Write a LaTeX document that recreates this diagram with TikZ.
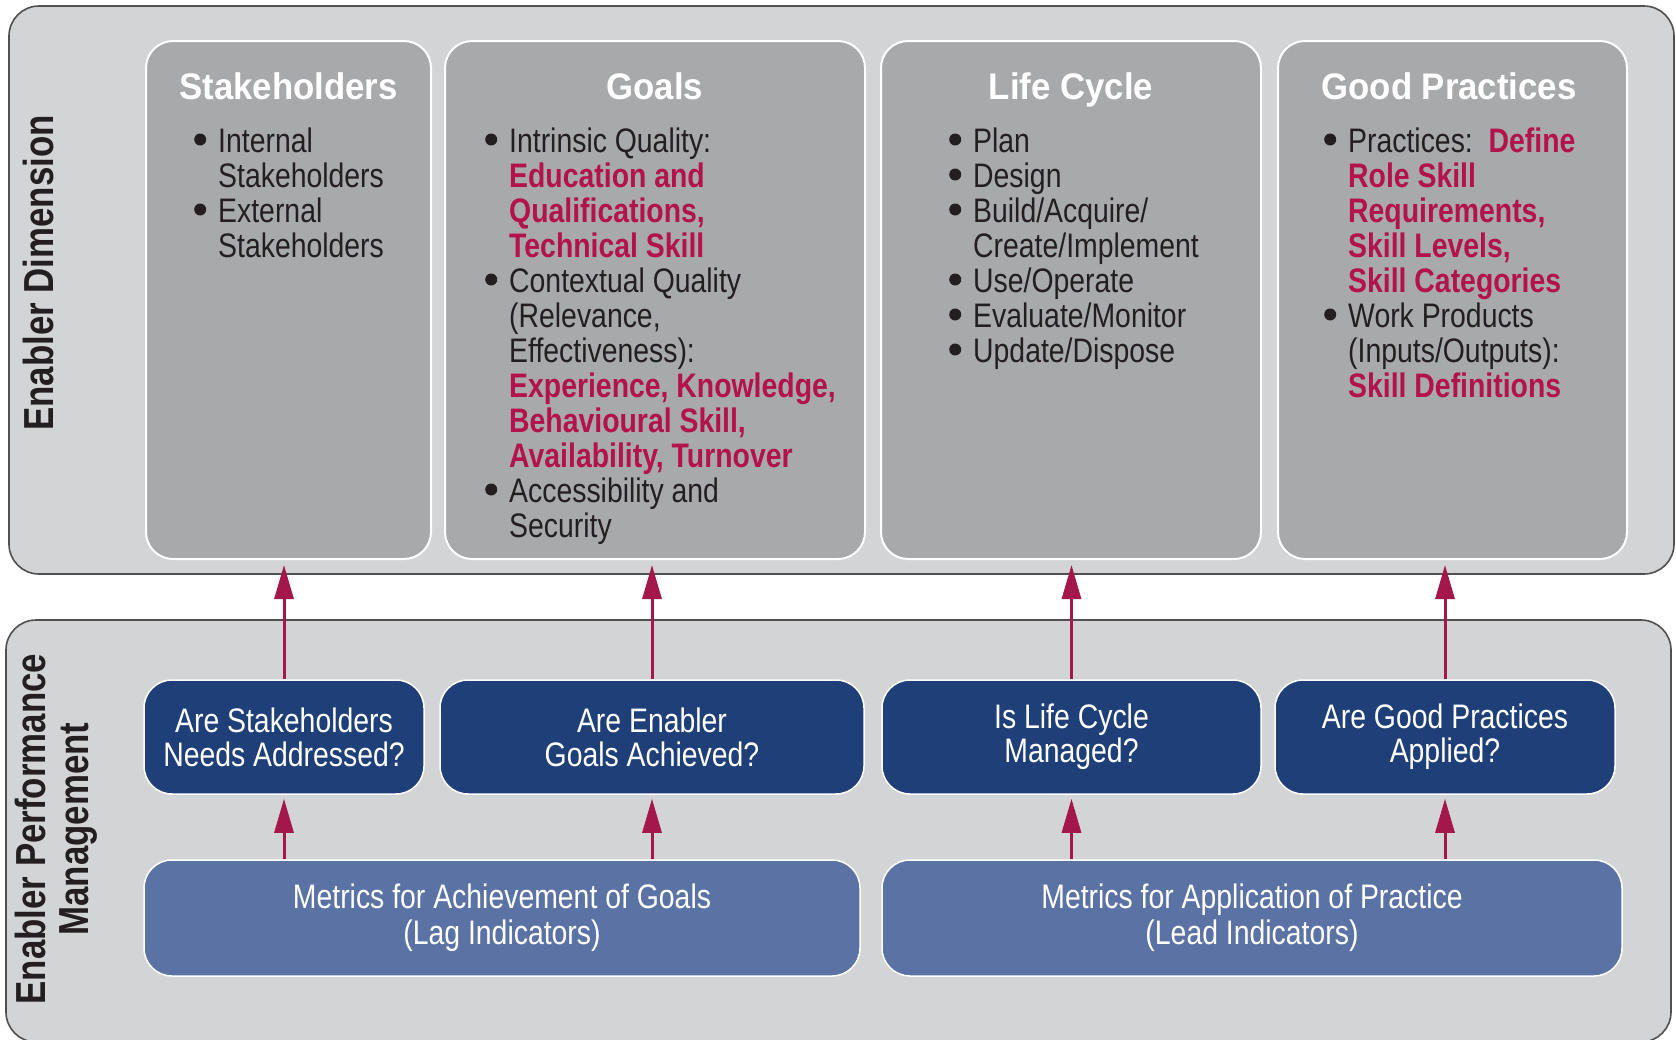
\documentclass[tikz,border=0pt]{standalone}
\usepackage{fontspec}
\setmainfont{Liberation Sans}[FakeStretch=0.835]
\newfontfamily\titlefont{Liberation Sans}[FakeStretch=0.94]
\newfontfamily\sidefont{Liberation Sans}[FakeStretch=0.83]
\usetikzlibrary{arrows.meta}
\definecolor{outerbg}{HTML}{D3D4D6}
\definecolor{colbg}{HTML}{A7A9AB}
\definecolor{darkblue}{HTML}{1F3F78}
\definecolor{lightblue}{HTML}{5B72A5}
\definecolor{crim}{HTML}{B3124C}
\definecolor{arrowc}{HTML}{A3174A}
\definecolor{txt}{HTML}{231F20}
\definecolor{framec}{HTML}{505050}
\newcommand\bl{\leavevmode\llap{\tikz[baseline=0pt]\fill[txt] (0pt,12.5pt) circle[radius=6pt];\hspace{12pt}}}
\newcommand\hl[1]{\textcolor{crim}{\bfseries #1}}
\newcommand\bodyfont{\fontsize{34}{35}\selectfont}
\tikzset{
  outerbox/.style={draw=framec, line width=1.6pt, fill=outerbg, rounded corners=30pt, inner sep=0pt},
  colbox/.style={draw=white, line width=2pt, fill=colbg, rounded corners=27pt, inner sep=0pt},
  qbox/.style={draw=white, line width=1.5pt, fill=darkblue, rounded corners=28pt, inner sep=0pt,
    minimum height=114pt, text=white, align=center, font=\fontsize{34}{34}\selectfont},
  mbox/.style={draw=white, line width=1.5pt, fill=lightblue, rounded corners=28pt, inner sep=0pt,
    minimum height=116pt, text=white, align=center, font=\fontsize{34}{36}\selectfont},
  coltitle/.style={anchor=base, inner sep=0pt, text=white, font=\titlefont\fontsize{37}{40}\selectfont\bfseries},
  colbody/.style={anchor=base west, inner sep=0pt, text=txt, font=\bodyfont},
  sidelabel/.style={rotate=90, inner sep=0pt, text=txt, align=center, font=\sidefont\fontsize{42}{43}\selectfont\bfseries},
  arr/.style={draw=arrowc, line width=3pt, -{Triangle[length=34pt,width=19pt]}}
}
\begin{document}
\begin{tikzpicture}[x=1pt,y=-1pt]
\useasboundingbox[fill=white] (0,0) rectangle (1676,1039);
% outer panels
\node[outerbox, minimum width=1665pt, minimum height=568pt] (dim) at (841.5,290) {};
\node[outerbox, minimum width=1665pt, minimum height=422pt] (perf) at (838.5,831) {};
% side labels
\node[sidelabel] (dimlabel) at (38,273) {Enabler Dimension};
\node[sidelabel] (perflabel) at (56,829) {Enabler Performance\\Management};
% columns
\node[colbox, minimum width=285pt, minimum height=518pt] (c1) at (288.5,300) {};
\node[colbox, minimum width=420pt, minimum height=518pt] (c2) at (655,300) {};
\node[colbox, minimum width=380pt, minimum height=518pt] (c3) at (1071,300) {};
\node[colbox, minimum width=349pt, minimum height=518pt] (c4) at (1452.5,300) {};
% titles
\node[coltitle] (t1) at (288.5,99) {Stakeholders};
\node[coltitle] (t2) at (655,99) {Goals};
\node[coltitle] (t3) at (1071,99) {Life Cycle};
\node[coltitle] (t4) at (1449,99) {Good Practices};
% bodies
\node[colbody] (b1) at (218,152) {\parbox[t]{400pt}{\raggedright\bodyfont
\bl Internal\\Stakeholders\\\bl External\\Stakeholders}};
\node[colbody] (b2) at (509,152) {\parbox[t]{400pt}{\raggedright\bodyfont
\bl Intrinsic Quality:\\
\hl{Education and}\\
\hl{Qualifications,}\\
\hl{Technical Skill}\\
\bl Contextual Quality\\
(Relevance,\\
Effectiveness):\\
\hl{Experience, Knowledge,}\\
\hl{Behavioural Skill,}\\
\hl{Availability, Turnover}\\
\bl Accessibility and\\
Security}};
\node[colbody] (b3) at (973,152) {\parbox[t]{400pt}{\raggedright\bodyfont
\bl Plan\\
\bl Design\\
\bl Build/Acquire/\\
Create/Implement\\
\bl Use/Operate\\
\bl Evaluate/Monitor\\
\bl Update/Dispose}};
\node[colbody] (b4) at (1348,152) {\parbox[t]{400pt}{\raggedright\bodyfont
\bl Practices:\ \ \hl{Define}\\
\hl{Role Skill}\\
\hl{Requirements,}\\
\hl{Skill Levels,}\\
\hl{Skill Categories}\\
\bl Work Products\\
(Inputs/Outputs):\\
\hl{Skill Definitions}}};
% question boxes
\node[qbox, minimum width=280pt] (q1) at (284,737) {Are Stakeholders\\Needs Addressed?};
\node[qbox, minimum width=424pt] (q2) at (652,737) {Are Enabler\\Goals Achieved?};
\node[qbox, minimum width=379pt] (q3) at (1071.5,737) {Is Life Cycle\\Managed?};
\node[qbox, minimum width=340pt] (q4) at (1445,737) {Are Good Practices\\Applied?};
% metrics boxes
\node[mbox, minimum width=716pt] (m1) at (502,918) {Metrics for Achievement of Goals\\(Lag Indicators)};
\node[mbox, minimum width=740pt] (m2) at (1252,918) {Metrics for Application of Practice\\(Lead Indicators)};
% arrows up to the dimension columns
\foreach \q/\c in {q1/c1,q2/c2,q3/c3,q4/c4}{
  \draw[arr, shorten >=5pt] (\q.north) -- (\q.north |- \c.south);
}
% arrows from metrics to questions
\draw[arr, shorten >=4pt] (q1.south |- m1.north) -- (q1.south);
\draw[arr, shorten >=4pt] (q2.south |- m1.north) -- (q2.south);
\draw[arr, shorten >=4pt] (q3.south |- m2.north) -- (q3.south);
\draw[arr, shorten >=4pt] (q4.south |- m2.north) -- (q4.south);
\end{tikzpicture}
\end{document}
